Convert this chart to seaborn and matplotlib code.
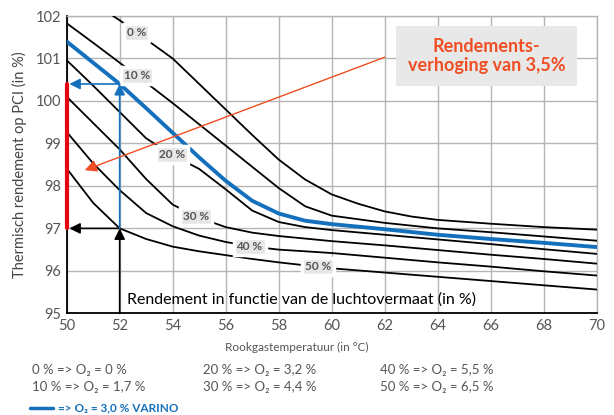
import numpy as np
import pandas as pd
import seaborn as sns
import matplotlib
matplotlib.use("Agg")
import matplotlib.pyplot as plt

# rookgastemperatuur (x) and thermisch rendement (y) per luchtovermaat
temp_0 = [51.75, 52, 53, 54, 55, 56, 57, 58, 59, 60, 61, 62, 63, 64, 66, 68, 70]
rend_0 = [102.0, 101.9, 101.45, 101.0, 100.4, 99.8, 99.2, 98.62, 98.15, 97.8,
          97.58, 97.4, 97.28, 97.2, 97.11, 97.03, 96.97]

temp = [50, 51, 52, 53, 54, 55, 56, 57, 58, 59, 60, 62, 64, 66, 68, 70]
rend_10 = [101.83, 101.37, 100.9, 100.43, 99.95, 99.45, 98.95, 98.45, 97.95, 97.52,
           97.3, 97.13, 97.0, 96.91, 96.81, 96.71]
rend_20 = [100.96, 100.36, 99.74, 99.12, 98.72, 98.4, 97.92, 97.42, 97.15, 97.03,
           96.96, 96.85, 96.74, 96.63, 96.51, 96.40]
rend_30 = [100.10, 99.48, 98.86, 98.16, 97.56, 97.25, 97.03, 96.9, 96.82, 96.76,
           96.7, 96.6, 96.49, 96.38, 96.28, 96.17]
rend_40 = [99.27, 98.53, 97.9, 97.36, 97.05, 96.83, 96.68, 96.57, 96.5, 96.46,
           96.42, 96.31, 96.2, 96.1, 95.99, 95.89]
rend_50 = [98.41, 97.6, 97.0, 96.75, 96.57, 96.46, 96.37, 96.28, 96.2, 96.13,
           96.06, 95.96, 95.86, 95.76, 95.66, 95.56]
rend_varino = [101.40, 100.9, 100.40, 99.83, 99.25, 98.67, 98.12, 97.65, 97.35, 97.18,
               97.1, 96.98, 96.85, 96.75, 96.66, 96.56]

curve_names = ["0 %", "10 %", "20 %", "30 %", "40 %", "50 %"]
label_x = [52.64, 52.64, 53.96, 54.87, 56.9, 59.47]

legend_lines = [["0 % => O₂ = 0 %", "10 % => O₂ = 1,7 %"],
                ["20 % => O₂ = 3,2 %", "30 % => O₂ = 4,4 %"],
                ["40 % => O₂ = 5,5 %", "50 % => O₂ = 6,5 %"]]

# working point: VARINO vs 50 % luchtovermaat at 52 degC
werk_temp = 52
werk_hoog = 100.4
werk_laag = 97.0

BLUE = "#1470bd"
ORANGE = "#f04e23"
RED = "#e30613"
GREY = "#555555"

sns.set_theme(style="whitegrid")
plt.rcParams["font.family"] = ["Lato", "DejaVu Sans"]

series = {
    "0 %": (temp_0, rend_0),
    "10 %": (temp, rend_10),
    "20 %": (temp, rend_20),
    "30 %": (temp, rend_30),
    "40 %": (temp, rend_40),
    "50 %": (temp, rend_50),
    "VARINO": (temp, rend_varino),
}
rows = []
for naam, (xs, ys) in series.items():
    for x, y in zip(xs, ys):
        rows.append({"temp": x, "rend": y, "curve": naam})
df = pd.DataFrame(rows)

fig = plt.figure(figsize=(6.14, 4.15), dpi=100)
ax = fig.add_axes([0.1086, 0.245, 0.8632, 0.7164])

palette = {n: "black" for n in curve_names}
palette["VARINO"] = BLUE
sizes = {n: 1.3 for n in curve_names}
sizes["VARINO"] = 2.8
sns.lineplot(data=df, x="temp", y="rend", hue="curve", size="curve",
             palette=palette, sizes=sizes, estimator=None, sort=False,
             legend=False, ax=ax, zorder=3)
for ln in ax.get_lines():
    ln.set_solid_joinstyle("round")

ax.set_xlim(50, 70)
ax.set_ylim(95, 102)
ax.set_xticks(range(50, 71, 2))
ax.set_yticks(range(95, 103))
ax.grid(True, color="#b5b5b5", linewidth=1)
ax.set_facecolor("white")
for side in ["top", "right"]:
    ax.spines[side].set_color("#b5b5b5")
    ax.spines[side].set_linewidth(1)
for side in ["left", "bottom"]:
    ax.spines[side].set_color("black")
    ax.spines[side].set_linewidth(1.3)
ax.tick_params(axis="both", labelsize=10.5, colors=GREY, length=0, pad=4)
ax.set_xlabel("Rookgastemperatuur (in °C)", fontsize=8.5, color=GREY)
ax.xaxis.set_label_coords((297 - 66.7) / 530, -0.095)
ax.set_ylabel("Thermisch rendement op PCI (in %)", fontsize=10.5, color="#444444",
              labelpad=6)

# curve labels sitting on the lines
for naam, lx in zip(curve_names, label_x):
    xs, ys = series[naam]
    ly = np.interp(lx, xs, ys)
    ax.text(lx, ly, naam, fontsize=8.5, fontweight="bold", color=GREY,
            ha="center", va="center", zorder=5,
            bbox=dict(boxstyle="square,pad=0.25", fc="#e6e6e6", ec="white", lw=2.5))

# red bar: efficiency gain
ax.plot([50, 50], [werk_laag, werk_hoog], color=RED, lw=3, zorder=6, clip_on=False)

# black arrows (50 %)
ax.annotate("", xy=(werk_temp, werk_laag), xytext=(werk_temp, 95),
            arrowprops=dict(arrowstyle="-|>", color="black", lw=1.2, mutation_scale=16,
                            shrinkA=0, shrinkB=0), zorder=6)
ax.annotate("", xy=(50.1, werk_laag), xytext=(werk_temp, werk_laag),
            arrowprops=dict(arrowstyle="-|>", color="black", lw=1.2, mutation_scale=16,
                            shrinkA=0, shrinkB=0), zorder=6)
# blue arrows (VARINO)
ax.annotate("", xy=(werk_temp, werk_hoog), xytext=(werk_temp, werk_laag),
            arrowprops=dict(arrowstyle="-|>", color=BLUE, lw=1.2, mutation_scale=16,
                            shrinkA=0, shrinkB=0), zorder=6)
ax.annotate("", xy=(50.1, werk_hoog), xytext=(werk_temp, werk_hoog),
            arrowprops=dict(arrowstyle="-|>", color=BLUE, lw=1.2, mutation_scale=16,
                            shrinkA=0, shrinkB=0), zorder=6)

# orange callout
ax.annotate("", xy=(50.68, 98.37), xytext=(62.0, 101.03),
            arrowprops=dict(arrowstyle="-|>", color=ORANGE, lw=1, mutation_scale=18,
                            shrinkA=0, shrinkB=0), zorder=7)
ax.text(65.85, 101.06, "Rendements-\nverhoging van 3,5%", fontsize=13,
        fontweight="bold", color=ORANGE, ha="center", va="center", zorder=8,
        linespacing=1.15,
        bbox=dict(boxstyle="square,pad=0.65", fc="#e8e8e8", ec="none"))

ax.text(52.27, 95.32, "Rendement in functie van de luchtovermaat (in %)",
        fontsize=11.5, color="black", ha="left", va="center", zorder=8)

# legend text below the chart
col_x = [32, 203, 380]
for cx, pair in zip(col_x, legend_lines):
    for ry, txt in zip([370, 386.5], pair):
        fig.text(cx / 614, 1 - ry / 415, txt, fontsize=9.5, color=GREY,
                 ha="left", va="center")
fig.add_artist(plt.Line2D([30 / 614, 53 / 614], [1 - 408 / 415, 1 - 408 / 415],
                          color=BLUE, lw=2.5))
fig.text(58 / 614, 1 - 408 / 415, "=> O₂ = 3,0 % VARINO", fontsize=8.5,
         fontweight="bold", color=BLUE, ha="left", va="center")

fig.savefig("out.png", dpi=100, facecolor="white")
